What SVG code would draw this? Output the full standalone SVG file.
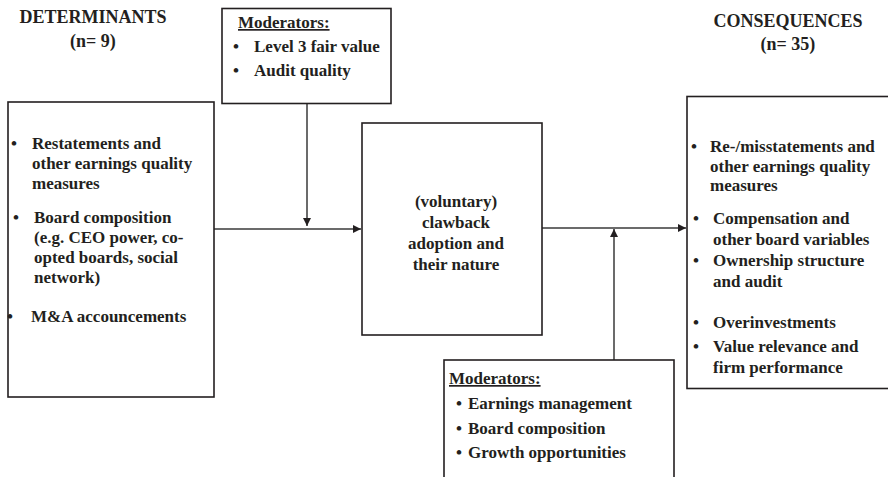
<svg xmlns="http://www.w3.org/2000/svg" width="888" height="477" viewBox="0 0 888 477">
<style>
  text { font-family: "Liberation Serif", "Times New Roman", serif; font-weight: bold; fill: #231f20; font-size: 17px; }
  .hdr { font-size: 18px; text-anchor: middle; }
  .mid { text-anchor: middle; }
  .ul { text-decoration: underline; }
  .box { fill: #fff; stroke: #231f20; stroke-width: 1.6; }
  .conn { stroke: #3a3a3a; stroke-width: 1.5; fill: none; }
</style>
<defs>
  <marker id="arr" viewBox="0 0 10 10" refX="10" refY="5" markerWidth="8" markerHeight="8" markerUnits="userSpaceOnUse" orient="auto">
    <path d="M0,0 L10,5 L0,10 z" fill="#231f20"/>
  </marker>
</defs>

<g id="header-determinants">
  <text class="hdr" x="93" y="23">DETERMINANTS</text>
  <text class="hdr" x="93" y="47">(n= 9)</text>
</g>
<g id="header-consequences">
  <text class="hdr" x="788" y="27">CONSEQUENCES</text>
  <text class="hdr" x="788" y="50">(n= 35)</text>
</g>

<g id="connectors">
  <line class="conn" x1="214" y1="229" x2="361" y2="229" marker-end="url(#arr)"/>
  <line class="conn" x1="307" y1="104" x2="307" y2="226" marker-end="url(#arr)"/>
  <line class="conn" x1="542" y1="228" x2="686" y2="228" marker-end="url(#arr)"/>
  <line class="conn" x1="614" y1="360" x2="614" y2="229" marker-end="url(#arr)"/>
</g>

<g id="determinants">
  <rect class="box" x="8" y="102" width="206" height="295"/>
  <text x="11" y="149">•</text>
  <text x="32" y="149">Restatements and</text>
  <text x="32" y="169">other earnings quality</text>
  <text x="32" y="189">measures</text>
  <text x="13" y="223">•</text>
  <text x="34" y="223">Board composition</text>
  <text x="34" y="243">(e.g. CEO power, co-</text>
  <text x="34" y="263">opted boards, social</text>
  <text x="34" y="283">network)</text>
  <text x="7" y="322">•</text>
  <text x="31" y="322">M&amp;A accouncements</text>
</g>

<g id="moderators-top">
  <rect class="box" x="222" y="8.5" width="169" height="95"/>
  <text class="ul" x="238" y="28">Moderators:</text>
  <text x="233" y="52">•</text>
  <text x="254" y="52">Level 3 fair value</text>
  <text x="233" y="76">•</text>
  <text x="254" y="76">Audit quality</text>
</g>

<g id="clawback">
  <rect class="box" x="362" y="123" width="180" height="212"/>
  <text class="mid" x="456" y="207">(voluntary)</text>
  <text class="mid" x="456" y="228">clawback</text>
  <text class="mid" x="456" y="249">adoption and</text>
  <text class="mid" x="456" y="270">their nature</text>
</g>

<g id="consequences">
  <rect class="box" x="687" y="96.5" width="220" height="292"/>
  <text x="691" y="152">•</text>
  <text x="710" y="152">Re-/misstatements and</text>
  <text x="710" y="172">other earnings quality</text>
  <text x="710" y="191">measures</text>
  <text x="693" y="224">•</text>
  <text x="713" y="224">Compensation and</text>
  <text x="713" y="245">other board variables</text>
  <text x="693" y="266">•</text>
  <text x="713" y="266">Ownership structure</text>
  <text x="713" y="287">and audit</text>
  <text x="693" y="328">•</text>
  <text x="713" y="328">Overinvestments</text>
  <text x="693" y="352">•</text>
  <text x="713" y="352">Value relevance and</text>
  <text x="713" y="373">firm performance</text>
</g>

<g id="moderators-bottom">
  <rect class="box" x="444" y="360" width="230" height="140"/>
  <text class="ul" x="449" y="384">Moderators:</text>
  <text x="456" y="409">•</text>
  <text x="468" y="409">Earnings management</text>
  <text x="456" y="434">•</text>
  <text x="468" y="434">Board composition</text>
  <text x="456" y="458">•</text>
  <text x="468" y="458">Growth opportunities</text>
</g>
</svg>
